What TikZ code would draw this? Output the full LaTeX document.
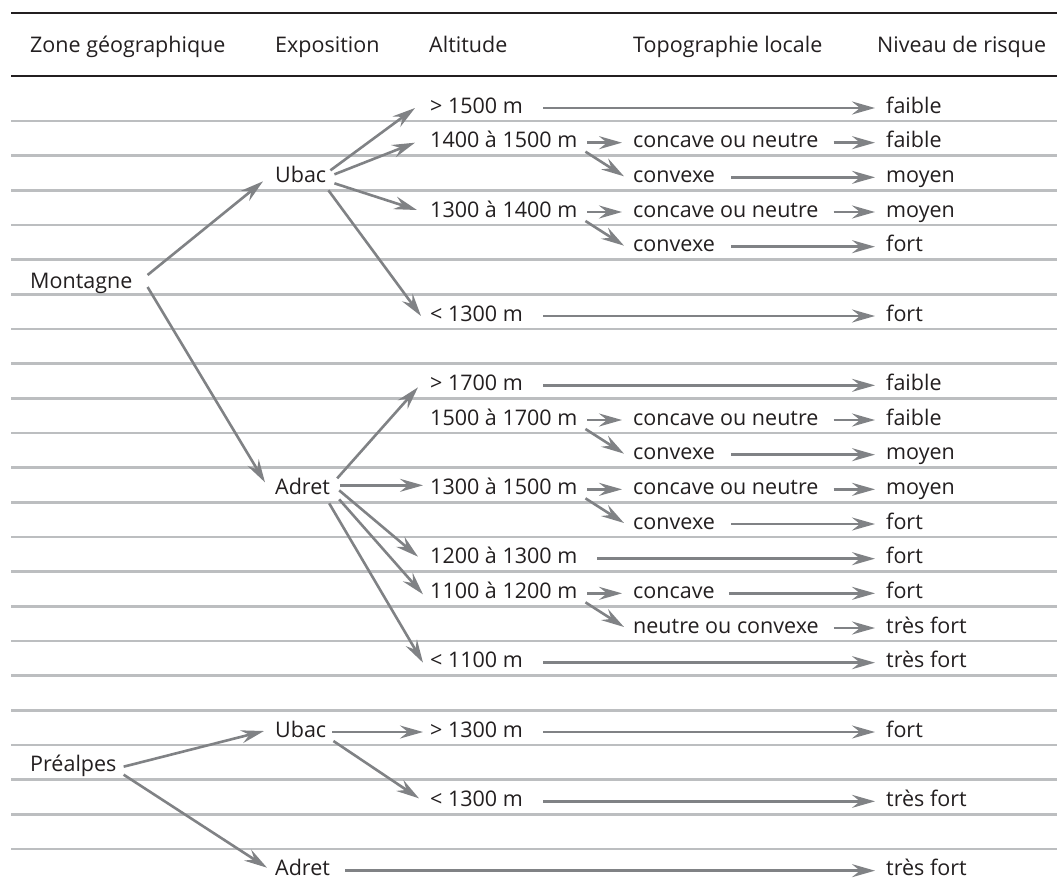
\documentclass[tikz,border=0pt]{standalone}
\usepackage{fontspec}
\setmainfont{Open Sans}
\usetikzlibrary{arrows.meta}
\definecolor{txt}{HTML}{231F20}
\definecolor{arrgray}{HTML}{808285}
\definecolor{rulegray}{HTML}{BCBEC0}
\begin{document}
\begin{tikzpicture}[x=1pt,y=-1pt,
  font=\fontsize{21.5pt}{26pt}\selectfont,
  lbl/.style={anchor=base west, inner sep=0pt, text height=14pt, text depth=4pt, text=txt},
  arr/.style={draw=arrgray, line width=2.6pt, -{Stealth[length=23pt,width=13pt,inset=8pt]}},
  rulel/.style={draw=rulegray, line width=2.6pt},
  blackrule/.style={draw=txt, line width=2.8pt}]
\useasboundingbox[fill=white] (0,0) rectangle (1057,887);
% rules
\draw[blackrule] (11,13) -- (1057,13);
\draw[blackrule] (11,76) -- (1057,76);
\foreach \i in {0,...,21} \draw[rulel] (11,{121+\i*34.667}) -- (1057,{121+\i*34.667});
% header
\node[lbl] (h1) at (30,52) {Zone géographique};
\node[lbl] (h2) at (275,52) {Exposition};
\node[lbl] (h3) at (429,52) {Altitude};
\node[lbl] (h4) at (633,52) {Topographie locale};
\node[lbl] (h5) at (877,52) {Niveau de risque};
% column 1
\node[lbl] (M) at (30,288) {Montagne};
\node[lbl] (P) at (30,771.67) {Préalpes};
% column 2
\node[lbl] (U1) at (275,182.33) {Ubac};
\node[lbl] (A1) at (275,494.33) {Adret};
\node[lbl] (U2) at (275,737) {Ubac};
\node[lbl] (A2) at (275,875.67) {Adret};
% column 3
\node[lbl] (a1) at (430,113) {> 1500 m};
\node[lbl] (a2) at (430,147.67) {1400 à 1500 m};
\node[lbl] (a3) at (430,217) {1300 à 1400 m};
\node[lbl] (a4) at (430,321) {< 1300 m};
\node[lbl] (a5) at (430,390.33) {> 1700 m};
\node[lbl] (a6) at (430,425) {1500 à 1700 m};
\node[lbl] (a7) at (430,494.33) {1300 à 1500 m};
\node[lbl] (a8) at (430,563.67) {1200 à 1300 m};
\node[lbl] (a9) at (430,598.33) {1100 à 1200 m};
\node[lbl] (a10) at (430,667.67) {< 1100 m};
\node[lbl] (a11) at (430,737) {> 1300 m};
\node[lbl] (a12) at (430,806.33) {< 1300 m};
% column 4
\node[lbl] (t1) at (633,147.67) {concave ou neutre};
\node[lbl] (t2) at (633,182.33) {convexe};
\node[lbl] (t3) at (633,217) {concave ou neutre};
\node[lbl] (t4) at (633,251.67) {convexe};
\node[lbl] (t5) at (633,425) {concave ou neutre};
\node[lbl] (t6) at (633,459.67) {convexe};
\node[lbl] (t7) at (633,494.33) {concave ou neutre};
\node[lbl] (t8) at (633,529) {convexe};
\node[lbl] (t9) at (633,598.33) {concave};
\node[lbl] (t10) at (633,633) {neutre ou convexe};
% column 5
\node[lbl] (r1) at (886,113) {faible};
\node[lbl] (r2) at (886,147.67) {faible};
\node[lbl] (r3) at (886,182.33) {moyen};
\node[lbl] (r4) at (886,217) {moyen};
\node[lbl] (r5) at (886,251.67) {fort};
\node[lbl] (r6) at (886,321) {fort};
\node[lbl] (r7) at (886,390.33) {faible};
\node[lbl] (r8) at (886,425) {faible};
\node[lbl] (r9) at (886,459.67) {moyen};
\node[lbl] (r10) at (886,494.33) {moyen};
\node[lbl] (r11) at (886,529) {fort};
\node[lbl] (r12) at (886,563.67) {fort};
\node[lbl] (r13) at (886,598.33) {fort};
\node[lbl] (r14) at (886,633) {très fort};
\node[lbl] (r15) at (886,667.67) {très fort};
\node[lbl] (r16) at (886,737) {fort};
\node[lbl] (r17) at (886,806.33) {très fort};
\node[lbl] (r18) at (886,875.67) {très fort};
% Montagne
\draw[arr] ([xshift=15pt,yshift=8pt]M.east) -- ([xshift=-12pt,yshift=-4pt]U1.west);
\draw[arr] ([xshift=15pt,yshift=-4pt]M.east) -- ([xshift=-10pt,yshift=7pt]A1.west);
% Ubac (Montagne)
\draw[arr] ([xshift=4pt,yshift=7pt]U1.east) -- ([xshift=-15pt]a1.west);
\draw[arr] ([xshift=8pt,yshift=3pt]U1.east) -- ([xshift=-15pt]a2.west);
\draw[arr] ([xshift=8pt,yshift=-6pt]U1.east) -- ([xshift=-13pt,yshift=2pt]a3.west);
\draw[arr] ([xshift=2pt,yshift=-13pt]U1.east) -- ([xshift=-9pt]a4.west);
\draw[arr] ([xshift=20pt]a1.east) -- ([xshift=-11pt]r1.west);
\draw[arr] ([xshift=10pt]a2.east) -- ([xshift=-11pt]t1.west);
\draw[arr] ([xshift=8pt,yshift=-9pt]a2.east) -- ([xshift=-9pt,yshift=1pt]t2.west);
\draw[arr] ([xshift=15pt]t1.east) -- ([xshift=-11pt]r2.west);
\draw[arr] ([xshift=16pt]t2.east) -- ([xshift=-11pt]r3.west);
\draw[arr] ([xshift=10pt]a3.east) -- ([xshift=-11pt]t3.west);
\draw[arr] ([xshift=8pt,yshift=-9pt]a3.east) -- ([xshift=-9pt,yshift=1pt]t4.west);
\draw[arr] ([xshift=15pt]t3.east) -- ([xshift=-11pt]r4.west);
\draw[arr] ([xshift=16pt]t4.east) -- ([xshift=-11pt]r5.west);
\draw[arr] ([xshift=20pt]a4.east) -- ([xshift=-11pt]r6.west);
% Adret (Montagne)
\draw[arr] ([xshift=7pt,yshift=11pt]A1.east) -- ([xshift=-12pt,yshift=-2pt]a5.west);
\draw[arr] ([xshift=10pt,yshift=4pt]A1.east) -- ([xshift=-7pt,yshift=4pt]a7.west);
\draw[arr] ([xshift=9pt,yshift=-1pt]A1.east) -- ([xshift=-12pt,yshift=2pt]a8.west);
\draw[arr] ([xshift=9pt,yshift=-10pt]A1.east) -- ([xshift=-7pt,yshift=-1pt]a9.west);
\draw[arr] ([xshift=-1pt,yshift=-14pt]A1.east) -- ([xshift=-7pt]a10.west);
\draw[arr] ([xshift=20pt]a5.east) -- ([xshift=-11pt]r7.west);
\draw[arr] ([xshift=10pt]a6.east) -- ([xshift=-11pt]t5.west);
\draw[arr] ([xshift=8pt,yshift=-9pt]a6.east) -- ([xshift=-9pt,yshift=1pt]t6.west);
\draw[arr] ([xshift=15pt]t5.east) -- ([xshift=-11pt]r8.west);
\draw[arr] ([xshift=16pt]t6.east) -- ([xshift=-11pt]r9.west);
\draw[arr] ([xshift=10pt]a7.east) -- ([xshift=-11pt]t7.west);
\draw[arr] ([xshift=8pt,yshift=-9pt]a7.east) -- ([xshift=-9pt,yshift=1pt]t8.west);
\draw[arr] ([xshift=15pt]t7.east) -- ([xshift=-11pt]r10.west);
\draw[arr] ([xshift=16pt]t8.east) -- ([xshift=-11pt]r11.west);
\draw[arr] ([xshift=20pt]a8.east) -- ([xshift=-11pt]r12.west);
\draw[arr] ([xshift=10pt]a9.east) -- ([xshift=-11pt]t9.west);
\draw[arr] ([xshift=8pt,yshift=-9pt]a9.east) -- ([xshift=-9pt,yshift=1pt]t10.west);
\draw[arr] ([xshift=14pt]t9.east) -- ([xshift=-11pt]r13.west);
\draw[arr] ([xshift=15pt]t10.east) -- ([xshift=-11pt]r14.west);
\draw[arr] ([xshift=20pt]a10.east) -- ([xshift=-11pt]r15.west);
% Préalpes
\draw[arr] ([xshift=7pt]P.east) -- ([xshift=-11pt,yshift=1pt]U2.west);
\draw[arr] ([xshift=7pt,yshift=-8pt]P.east) -- ([xshift=-8pt,yshift=3pt]A2.west);
\draw[arr] ([xshift=6pt]U2.east) -- ([xshift=-7pt]a11.west);
\draw[arr] ([xshift=7pt,yshift=-9pt]U2.east) -- ([xshift=-11pt,yshift=3pt]a12.west);
\draw[arr] ([xshift=20pt]a11.east) -- ([xshift=-11pt]r16.west);
\draw[arr] ([xshift=20pt]a12.east) -- ([xshift=-11pt]r17.west);
\draw[arr] ([xshift=15pt]A2.east) -- ([xshift=-11pt]r18.west);
\end{tikzpicture}
\end{document}
